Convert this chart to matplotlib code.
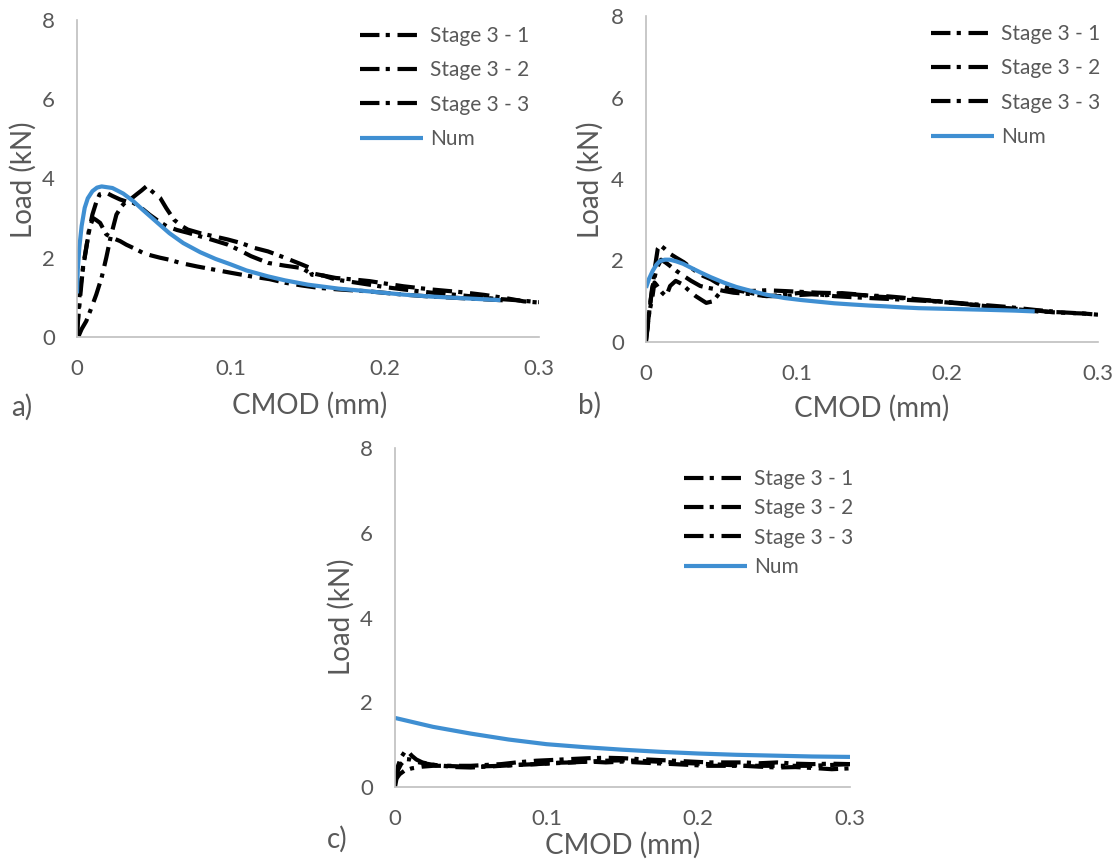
import matplotlib
matplotlib.use("Agg")
import matplotlib.pyplot as plt

plt.rcParams['font.family'] = ['Lato', 'DejaVu Sans']
plt.rcParams['lines.scale_dashes'] = False

# ---------------- data ----------------
series_labels = ["Stage 3 - 1", "Stage 3 - 2", "Stage 3 - 3", "Num"]
x_ticks = [0, 0.1, 0.2, 0.3]
x_tick_labels = ["0", "0.1", "0.2", "0.3"]
y_ticks = [0, 2, 4, 6, 8]
y_tick_labels = ["0", "2", "4", "6", "8"]
panel_tags = ["a)", "b)", "c)"]
x_title = "CMOD (mm)"
y_title = "Load (kN)"

# Panel a
a1_x = [0, 0.001, 0.0026, 0.004, 0.006, 0.008, 0.010, 0.0125, 0.0147, 0.017, 0.019, 0.023, 0.028, 0.032,
        0.0365, 0.042, 0.047, 0.052, 0.058, 0.065, 0.072, 0.08, 0.088, 0.098, 0.105, 0.113, 0.124, 0.135,
        0.146, 0.151, 0.16, 0.168, 0.18, 0.19, 0.2, 0.212, 0.23, 0.25, 0.27, 0.285, 0.3]
a1_y = [0.1, 0.56, 1.24, 1.8, 2.25, 2.7, 3.09, 3.4, 3.6, 3.62, 3.64, 3.56, 3.47, 3.42,
        3.39, 3.25, 3.09, 2.95, 2.8, 2.7, 2.63, 2.54, 2.45, 2.33, 2.2, 2.04, 1.87, 1.8,
        1.74, 1.62, 1.55, 1.45, 1.38, 1.32, 1.26, 1.2, 1.12, 1.05, 0.97, 0.93, 0.88]
a2_x = [0.001, 0.003, 0.006, 0.009, 0.0125, 0.016, 0.019, 0.022, 0.0256, 0.029, 0.032, 0.0355, 0.0387,
        0.042, 0.045, 0.048, 0.051, 0.054, 0.058, 0.063, 0.068, 0.072, 0.08, 0.089, 0.098, 0.1066, 0.115,
        0.124, 0.135, 0.146, 0.151, 0.1525, 0.16, 0.168, 0.18, 0.19, 0.2, 0.212, 0.23, 0.25, 0.265, 0.28,
        0.29, 0.3]
a2_y = [0.02, 0.2, 0.4, 0.7, 1.07, 1.5, 2.0, 2.55, 3.09, 3.3, 3.43, 3.5, 3.6,
        3.7, 3.8, 3.7, 3.6, 3.51, 3.25, 2.96, 2.8, 2.71, 2.62, 2.54, 2.46, 2.37, 2.25,
        2.16, 2.0, 1.83, 1.75, 1.57, 1.55, 1.49, 1.45, 1.41, 1.35, 1.28, 1.2, 1.13, 1.06, 0.97,
        0.9, 0.87]
a3_x = [0, 0.0015, 0.003, 0.005, 0.008, 0.0105, 0.0125, 0.015, 0.019, 0.023, 0.028, 0.032, 0.038, 0.043,
        0.048, 0.054, 0.060, 0.067, 0.078, 0.089, 0.10, 0.113, 0.125, 0.135, 0.146, 0.157, 0.17, 0.19,
        0.212, 0.23, 0.25, 0.265, 0.28]
a3_y = [0.06, 0.99, 1.5, 2.0, 2.75, 3.0, 2.95, 2.88, 2.59, 2.5, 2.42, 2.33, 2.22, 2.12,
        2.06, 2.0, 1.95, 1.87, 1.78, 1.70, 1.62, 1.53, 1.46, 1.37, 1.30, 1.24, 1.2, 1.15,
        1.07, 1.02, 0.98, 0.95, 0.92]
a_num_x = [0, 0.0005, 0.0015, 0.003, 0.005, 0.007, 0.010, 0.013, 0.016, 0.023, 0.03, 0.0365, 0.043, 0.05,
           0.06, 0.069, 0.08, 0.09, 0.1, 0.11, 0.124, 0.135, 0.15, 0.17, 0.19, 0.212, 0.23, 0.25, 0.275]
a_num_y = [1.1, 1.7, 2.25, 2.8, 3.26, 3.5, 3.68, 3.77, 3.80, 3.76, 3.62, 3.43, 3.2, 2.96,
           2.62, 2.37, 2.14, 1.97, 1.83, 1.68, 1.53, 1.43, 1.32, 1.22, 1.15, 1.07, 1.02, 0.98, 0.93]

# Panel b
b1_x = [0, 0.0016, 0.003, 0.0045, 0.006, 0.0078, 0.0094, 0.012, 0.0157, 0.02, 0.025, 0.03, 0.034, 0.038,
        0.043, 0.047, 0.051, 0.058, 0.069, 0.08, 0.092, 0.103, 0.114, 0.125, 0.137, 0.148, 0.159, 0.17,
        0.181, 0.193, 0.204, 0.215, 0.226, 0.24, 0.26, 0.27, 0.282, 0.29, 0.3]
b1_y = [0, 0.54, 1.0, 1.38, 1.85, 2.29, 2.375, 2.3, 2.17, 2.07, 1.96, 1.82, 1.71, 1.62,
        1.54, 1.45, 1.38, 1.30, 1.25, 1.27, 1.25, 1.23, 1.21, 1.2, 1.17, 1.14, 1.125, 1.09,
        1.04, 1.0, 0.96, 0.92, 0.875, 0.83, 0.77, 0.73, 0.71, 0.7, 0.67]
b2_x = [0, 0.002, 0.004, 0.007, 0.01, 0.013, 0.0157, 0.02, 0.025, 0.03, 0.036, 0.041, 0.047, 0.052,
        0.058, 0.068, 0.08, 0.09, 0.103, 0.114, 0.125, 0.137, 0.148, 0.159, 0.17, 0.18, 0.19, 0.2,
        0.215, 0.226, 0.237, 0.25, 0.26, 0.275, 0.29, 0.3]
b2_y = [0.05, 0.7, 1.3, 1.8, 2.02, 1.95, 1.875, 1.75, 1.62, 1.5, 1.375, 1.33, 1.29, 1.25,
        1.21, 1.18, 1.125, 1.15, 1.21, 1.17, 1.125, 1.1, 1.08, 1.06, 1.04, 1.02, 1.0, 0.97,
        0.92, 0.88, 0.83, 0.79, 0.75, 0.73, 0.7, 0.67]
b3_x = [0.0005, 0.002, 0.004, 0.0056, 0.007, 0.009, 0.011, 0.0134, 0.016, 0.0197, 0.024, 0.028, 0.033,
        0.037, 0.04, 0.0445, 0.049, 0.053, 0.058, 0.063, 0.069, 0.076, 0.083, 0.092, 0.1, 0.11, 0.12,
        0.13, 0.14, 0.15, 0.16, 0.18, 0.2, 0.22, 0.24, 0.26, 0.27]
b3_y = [0.21, 0.7, 1.04, 1.46, 1.4, 1.29, 1.2, 1.12, 1.375, 1.5, 1.42, 1.28, 1.125,
        1.03, 0.96, 1.0, 1.21, 1.27, 1.29, 1.25, 1.21, 1.15, 1.125, 1.125, 1.15, 1.17, 1.15,
        1.2, 1.17, 1.12, 1.1, 1.05, 0.98, 0.92, 0.86, 0.78, 0.75]
b_num_x = [0, 0.002, 0.0045, 0.007, 0.009, 0.0125, 0.0157, 0.02, 0.0246, 0.03, 0.036, 0.043, 0.0515,
           0.06, 0.069, 0.08, 0.0918, 0.103, 0.114, 0.125, 0.137, 0.148, 0.159, 0.17, 0.181, 0.204,
           0.226, 0.245, 0.258]
b_num_y = [1.33, 1.55, 1.75, 1.9, 1.98, 2.02, 2.02, 1.98, 1.92, 1.82, 1.71, 1.59, 1.46,
           1.35, 1.26, 1.16, 1.08, 1.03, 0.99, 0.95, 0.92, 0.895, 0.875, 0.85, 0.83, 0.81,
           0.79, 0.77, 0.75]

# Panel c
c1_x = [0.0005, 0.002, 0.004, 0.007, 0.009, 0.011, 0.014, 0.018, 0.024, 0.03, 0.04, 0.047, 0.06, 0.07,
        0.08, 0.093, 0.105, 0.116, 0.128, 0.139, 0.15, 0.16, 0.172, 0.184, 0.195, 0.207, 0.22, 0.23,
        0.24, 0.252, 0.264, 0.275, 0.288, 0.3]
c1_y = [0.15, 0.5, 0.7, 0.86, 0.82, 0.74, 0.65, 0.58, 0.53, 0.5, 0.49, 0.48, 0.49, 0.5,
        0.52, 0.54, 0.57, 0.58, 0.6, 0.58, 0.6, 0.58, 0.56, 0.54, 0.52, 0.5, 0.5, 0.5,
        0.48, 0.46, 0.47, 0.45, 0.42, 0.44]
c2_x = [0, 0.001, 0.003, 0.006, 0.011, 0.018, 0.025, 0.035, 0.05, 0.06, 0.07, 0.08, 0.093, 0.105,
        0.116, 0.128, 0.139, 0.15, 0.16, 0.172, 0.184, 0.195, 0.207, 0.22, 0.23, 0.24, 0.252, 0.264,
        0.275, 0.288, 0.3]
c2_y = [0, 0.2, 0.3, 0.38, 0.44, 0.48, 0.5, 0.5, 0.5, 0.52, 0.54, 0.58, 0.62, 0.64,
        0.66, 0.68, 0.69, 0.68, 0.66, 0.64, 0.62, 0.6, 0.58, 0.58, 0.58, 0.56, 0.58, 0.55,
        0.54, 0.55, 0.54]
c3_x = [0.0005, 0.002, 0.004, 0.007, 0.01, 0.016, 0.024, 0.031, 0.04, 0.05, 0.06, 0.07, 0.08, 0.093,
        0.105, 0.116, 0.128, 0.139, 0.15, 0.16, 0.172, 0.184, 0.195, 0.207, 0.22, 0.23, 0.24, 0.252,
        0.264, 0.275, 0.288, 0.3]
c3_y = [0.15, 0.4, 0.54, 0.66, 0.65, 0.58, 0.53, 0.5, 0.47, 0.46, 0.48, 0.5, 0.52, 0.54,
        0.56, 0.58, 0.6, 0.62, 0.63, 0.62, 0.6, 0.58, 0.56, 0.54, 0.52, 0.5, 0.5, 0.5,
        0.5, 0.5, 0.52, 0.54]
c_num_x = [0, 0.025, 0.05, 0.075, 0.1, 0.125, 0.15, 0.175, 0.2, 0.225, 0.25, 0.275, 0.3]
c_num_y = [1.63, 1.42, 1.26, 1.12, 1.01, 0.94, 0.88, 0.83, 0.79, 0.76, 0.74, 0.72, 0.71]

panels = [
    [(a1_x, a1_y), (a2_x, a2_y), (a3_x, a3_y), (a_num_x, a_num_y)],
    [(b1_x, b1_y), (b2_x, b2_y), (b3_x, b3_y), (b_num_x, b_num_y)],
    [(c1_x, c1_y), (c2_x, c2_y), (c3_x, c3_y), (c_num_x, c_num_y)],
]

# ---------------- style / layout ----------------
W, H = 1117, 860
TXT = '#595959'
AXC = '#bfbfbf'
BLUE = '#3f8fd2'
DASH = (0, (14, 4.5, 3, 5.5))
FS_LEG = 15
FS_TICK = 16
FS_LAB = 20

# axes boxes in pixels: left, right, top(y=8), bottom(y=0)
boxes = [(77, 539, 20, 337), (646, 1098, 16, 342), (395, 850, 448, 787)]
legend_anchor_px = [(360, 26), (931, 24), (684, 469)]
legend_spacing = [0.69, 0.69, 0.45]
tag_px = [(22, 407), (589, 405), (337, 839)]
xlabel_px = [(310, 405), (872, 408), (623, 845)]
ylabel_px = [(23, 180), (590, 180), (341, 617)]

fig = plt.figure(figsize=(W / 100, H / 100), dpi=100)

for i, (box, data) in enumerate(zip(boxes, panels)):
    l, r, t, b = box
    ax = fig.add_axes([l / W, 1 - b / H, (r - l) / W, (b - t) / H])
    for k in range(3):
        xs, ys = data[k]
        ax.plot(xs, ys, color='black', lw=3.0, linestyle=DASH, label=series_labels[k],
                solid_joinstyle='round')
    xs, ys = data[3]
    ax.plot(xs, ys, color=BLUE, lw=3.0, label=series_labels[3], solid_capstyle='butt')

    ax.set_xlim(0, 0.3)
    ax.set_ylim(0, 8)
    ax.set_xticks(x_ticks)
    ax.set_xticklabels(x_tick_labels)
    ax.set_yticks(y_ticks)
    ax.set_yticklabels(y_tick_labels)
    ax.tick_params(length=0, labelsize=FS_TICK, colors=TXT)
    ax.tick_params(axis='y', pad=16)
    ax.tick_params(axis='x', pad=16)
    for s in ['top', 'right']:
        ax.spines[s].set_visible(False)
    for s in ['left', 'bottom']:
        ax.spines[s].set_color(AXC)
        ax.spines[s].set_linewidth(1.2)

    ax.set_xlabel(x_title, fontsize=FS_LAB, color=TXT)
    ax.set_ylabel(y_title, fontsize=FS_LAB, color=TXT)
    xl = xlabel_px[i]
    yl = ylabel_px[i]
    ax.xaxis.set_label_coords((xl[0] - l) / (r - l), (b - xl[1]) / (b - t))
    ax.xaxis.label.set_va('center')
    ax.yaxis.set_label_coords((yl[0] - l) / (r - l), (b - yl[1]) / (b - t))
    ax.yaxis.label.set_va('center')

    lx, ly = legend_anchor_px[i]
    leg = ax.legend(loc='upper left',
                    bbox_to_anchor=((lx - l) / (r - l), (b - ly) / (b - t)),
                    frameon=False, fontsize=FS_LEG, borderpad=0, borderaxespad=0,
                    handlelength=3.0, handletextpad=0.35, labelspacing=legend_spacing[i])
    for txt in leg.get_texts():
        txt.set_color(TXT)

    fig.text(tag_px[i][0] / W, 1 - tag_px[i][1] / H, panel_tags[i], fontsize=FS_LAB,
             color=TXT, ha='center', va='center')

fig.savefig('out.png', dpi=100)
